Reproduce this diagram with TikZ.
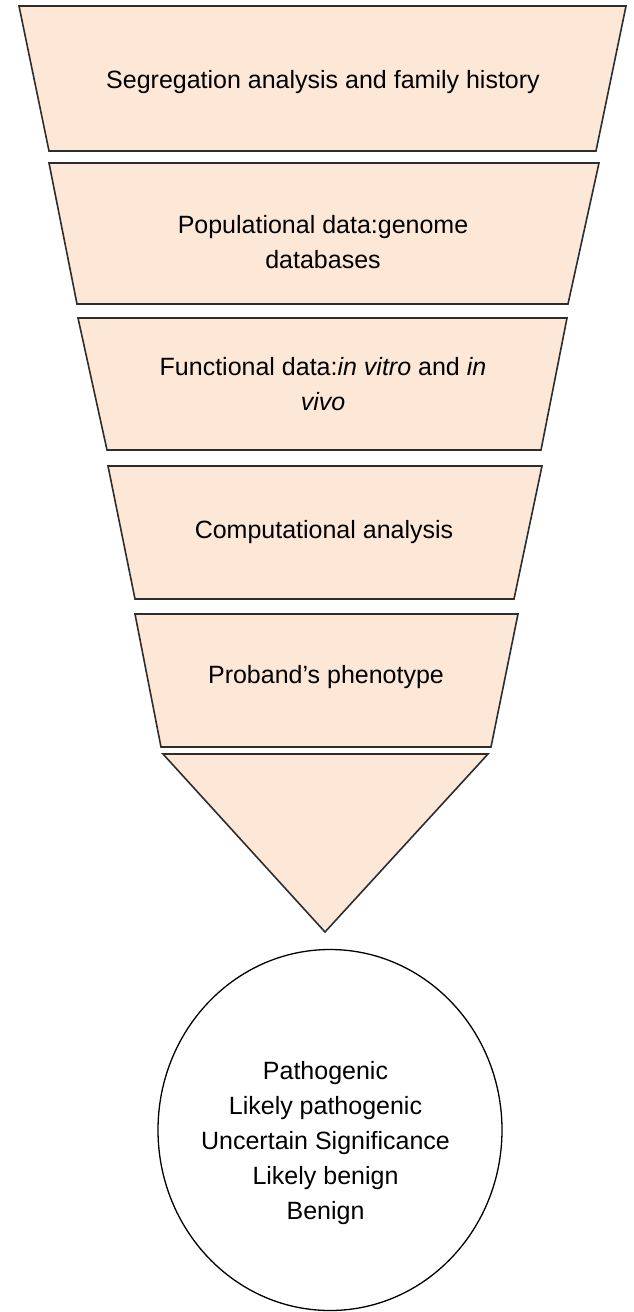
\documentclass[tikz,border=0pt]{standalone}
\usepackage{fontspec}
\setmainfont{Liberation Sans}
\usetikzlibrary{shapes.geometric}
\definecolor{funnelfill}{RGB}{253,232,215}
\definecolor{funneledge}{RGB}{45,45,45}

\begin{document}
\begin{tikzpicture}[
      x=1pt, y=-1pt,
      band/.style={draw=funneledge, fill=funnelfill, line width=1.6pt,
                   line join=miter},
      tag/.style={inner sep=0pt, align=center,
                  font=\fontsize{25}{35}\selectfont},
      verdict/.style={ellipse, draw, line width=1.3pt, inner sep=0pt,
                      minimum width=344pt, minimum height=361pt}
  ]
      \useasboundingbox (0,0) rectangle (633,1312);

      % funnel bands, widest on top
      \draw[band] (19,6)   -- (626,6)   -- (596,151) -- (49,151)  -- cycle;
      \draw[band] (49,163) -- (599,163) -- (568,304) -- (77,304)  -- cycle;
      \draw[band] (78,318) -- (567,318) -- (541,450) -- (107,450) -- cycle;
      \draw[band] (108,466) -- (542,466) -- (514,599) -- (135,599) -- cycle;
      \draw[band] (135,614) -- (518,614) -- (491,747) -- (161,747) -- cycle;
      \draw[band] (163,754) -- (488,754) -- (325,932) -- cycle;

      \node[tag] (segregation) at (323,82.5)
          {Segregation analysis and family history};
      \node[tag] (population)  at (323,242)
          {Populational data:genome\\databases};
      \node[tag] (functional)  at (323,384)
          {Functional data:\textit{in vitro} and \textit{in}\\\textit{vivo}};
      \node[tag] (computation) at (324,532.5) {Computational analysis};
      \node[tag] (proband)     at (326,677.5) {Proband's phenotype};

      % outcome
      \node[verdict] (outcome) at (330,1130) {};
      \node[tag] (classes) at (325.5,1143)
          {Pathogenic\\Likely pathogenic\\Uncertain Significance\\
           Likely benign\\Benign};
  \end{tikzpicture}
\end{document}
